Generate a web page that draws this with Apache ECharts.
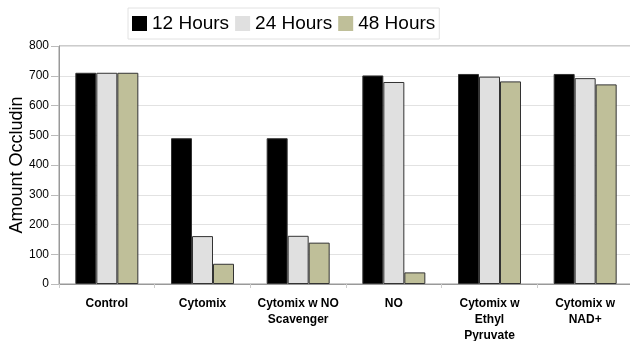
<!DOCTYPE html>
<html>
<head>
<meta charset="utf-8">
<script src="https://cdn.jsdelivr.net/npm/echarts@6/dist/echarts.min.js"></script>
<style>
  html, body { margin: 0; padding: 0; background: #fff; }
  #chart { width: 630px; height: 341px; }
</style>
</head>
<body>
<div id="chart"></div>
<script>
// Treatment groups along the x axis
const categories = ['Control', 'Cytomix', 'Cytomix w NO\nScavenger', 'NO', 'Cytomix w\nEthyl\nPyruvate', 'Cytomix w\nNAD+'];
// Occludin amount per time point
const hours12 = [710, 490, 490, 701, 706, 706];
const hours24 = [710, 161, 162, 679, 697, 692];
const hours48 = [710, 68, 139, 39, 681, 671];
const seriesNames = ['12 Hours', '24 Hours', '48 Hours'];
const seriesColors = ['#000000', '#e0e0e0', '#bfbf99'];
const yTicks = { min: 0, max: 800, interval: 100 };

const chart = echarts.init(document.getElementById('chart'), null, { renderer: 'canvas' });
const values = [hours12, hours24, hours48];

chart.setOption({
  animation: false,
  legend: {
    top: 8,
    left: 128,
    icon: 'rect',
    itemWidth: 15,
    itemHeight: 15,
    itemGap: 6,
    padding: [6, 4],
    borderColor: '#e2e2e2',
    borderWidth: 1,
    itemStyle: { borderWidth: 0 },
    textStyle: { fontFamily: 'Liberation Sans, Arial, sans-serif', fontSize: 19, color: '#000' },
    data: seriesNames
  },
  grid: {
    left: 59, right: -3, top: 46, bottom: 57,
    outerBoundsMode: 'none', containLabel: false,
    show: true, borderColor: '#999', borderWidth: 1
  },
  xAxis: {
    type: 'category',
    data: categories,
    axisLine: { lineStyle: { color: '#999' } },
    axisTick: { show: true, length: 4, lineStyle: { color: '#ccc' } },
    axisLabel: {
      interval: 0,
      margin: 12,
      fontFamily: 'Liberation Sans, Arial, sans-serif',
      fontWeight: 'bold',
      fontSize: 12,
      color: '#000',
      lineHeight: 16
    }
  },
  yAxis: {
    type: 'value',
    min: yTicks.min,
    max: yTicks.max,
    interval: yTicks.interval,
    name: 'Amount Occludin',
    nameLocation: 'middle',
    nameGap: 33,
    nameMoveOverlap: false,
    nameTextStyle: { fontFamily: 'Liberation Sans, Arial, sans-serif', fontSize: 18, color: '#000' },
    axisLine: { show: true, lineStyle: { color: '#999' } },
    axisTick: { show: true, length: 8, lineStyle: { color: '#bbb' } },
    axisLabel: { fontFamily: 'Liberation Sans, Arial, sans-serif', fontSize: 12, color: '#000', margin: 10 },
    splitLine: { lineStyle: { color: '#e2e2e2' } }
  },
  series: seriesNames.map((name, i) => ({
    name: name,
    type: 'bar',
    data: values[i],
    barWidth: 21,
    barGap: '0%',
    itemStyle: { color: seriesColors[i], borderColor: '#333', borderWidth: 1 }
  }))
});
</script>
</body>
</html>
